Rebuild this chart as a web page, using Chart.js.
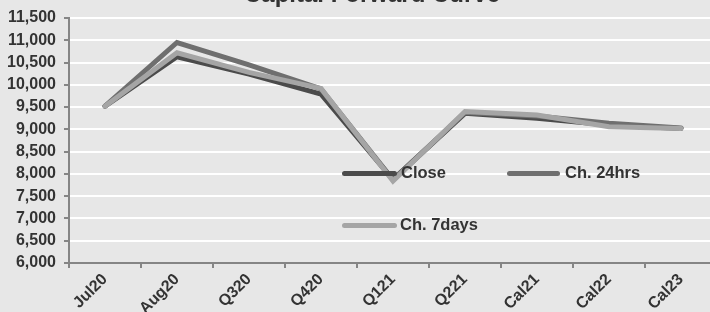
<!DOCTYPE html>
<html>
<head>
<meta charset="utf-8">
<script src="https://cdn.jsdelivr.net/npm/chart.js@4/dist/chart.umd.min.js"></script>
<style>
  html, body { margin: 0; padding: 0; background: #e7e7e7; overflow: hidden; }
  #wrap { position: relative; width: 710px; height: 312px; overflow: hidden; }
  #wrap canvas { position: absolute; left: 0; top: 0; }
  .leg { position: absolute; font: bold 16.5px "Liberation Sans", Arial, sans-serif; color: #333; white-space: nowrap; }
  .leg i { position: absolute; height: 5px; border-radius: 3px; }
</style>
</head>
<body>
<div id="wrap">
  <canvas id="chart" width="717" height="312"></canvas>
  <div class="leg" style="left:342px;top:163px;"><i style="left:0;top:8px;width:55px;background:#4b4b4b"></i><span style="margin-left:59px">Close</span></div>
  <div class="leg" style="left:507px;top:163px;"><i style="left:0;top:8px;width:53px;background:#6f6f6f"></i><span style="margin-left:58px">Ch. 24hrs</span></div>
  <div class="leg" style="left:342px;top:215px;"><i style="left:0;top:8px;width:55px;background:#a5a5a5"></i><span style="margin-left:58px">Ch. 7days</span></div>
</div>
<script>
const categories = ["Jul20", "Aug20", "Q320", "Q420", "Q121", "Q221", "Cal21", "Cal22", "Cal23"];
const closeValues = [9520, 10630, 10240, 9790, 7870, 9360, 9250, 9100, 9020];
const ch24Values = [9520, 10950, 10450, 9910, 7870, 9380, 9300, 9140, 9030];
const ch7Values = [9520, 10720, 10280, 9920, 7840, 9400, 9320, 9060, 9020];
const titleText = "Capital Forward Curve";

const textColor = "#333333";
const axisFont = { family: "'Liberation Sans', Arial, sans-serif", size: 16, weight: "bold" };

// title is mostly cut off at the top of the picture
const titlePlugin = {
  id: "cutTitle",
  afterDraw(chart) {
    const ctx = chart.ctx;
    ctx.save();
    ctx.font = "bold 24px 'Liberation Sans', Arial, sans-serif";
    ctx.fillStyle = textColor;
    ctx.textAlign = "center";
    ctx.textBaseline = "alphabetic";
    ctx.fillText(titleText, 372, 2);
    ctx.restore();
  },
};

function lineSet(label, data, color, order) {
  return {
    label,
    data,
    borderColor: color,
    backgroundColor: color,
    borderWidth: 5,
    borderCapStyle: "round",
    borderJoinStyle: "miter",
    pointRadius: 0,
    tension: 0,
    order,
  };
}

new Chart(document.getElementById("chart"), {
  type: "line",
  data: {
    labels: categories,
    datasets: [
      lineSet("Close", closeValues, "#4b4b4b", 3),
      lineSet("Ch. 24hrs", ch24Values, "#6f6f6f", 2),
      lineSet("Ch. 7days", ch7Values, "#a5a5a5", 1),
    ],
  },
  options: {
    responsive: false,
    animation: false,
    layout: { padding: { top: 18, right: 0, left: 0, bottom: 0 } },
    plugins: {
      legend: { display: false },
      title: { display: false },
      tooltip: { enabled: false },
    },
    scales: {
      x: {
        offset: true,
        afterFit(scale) { scale.height = 49; },
        grid: { drawOnChartArea: false, offset: true, tickColor: "#858585", tickLength: 5, lineWidth: 2 },
        border: { color: "#858585", width: 2 },
        ticks: { color: textColor, font: axisFont, maxRotation: 45, minRotation: 45, padding: 2 },
      },
      y: {
        min: 6000,
        max: 11500,
        afterFit(scale) { scale.width = 69; },
        grid: { color: "#ffffff", lineWidth: 2, tickColor: "#858585", tickLength: 5 },
        border: { color: "#858585", width: 2 },
        ticks: {
          stepSize: 500,
          color: textColor,
          font: axisFont,
          padding: 8,
          callback: (v) => v.toLocaleString("en-US"),
        },
      },
    },
  },
  plugins: [titlePlugin],
});
</script>
</body>
</html>
